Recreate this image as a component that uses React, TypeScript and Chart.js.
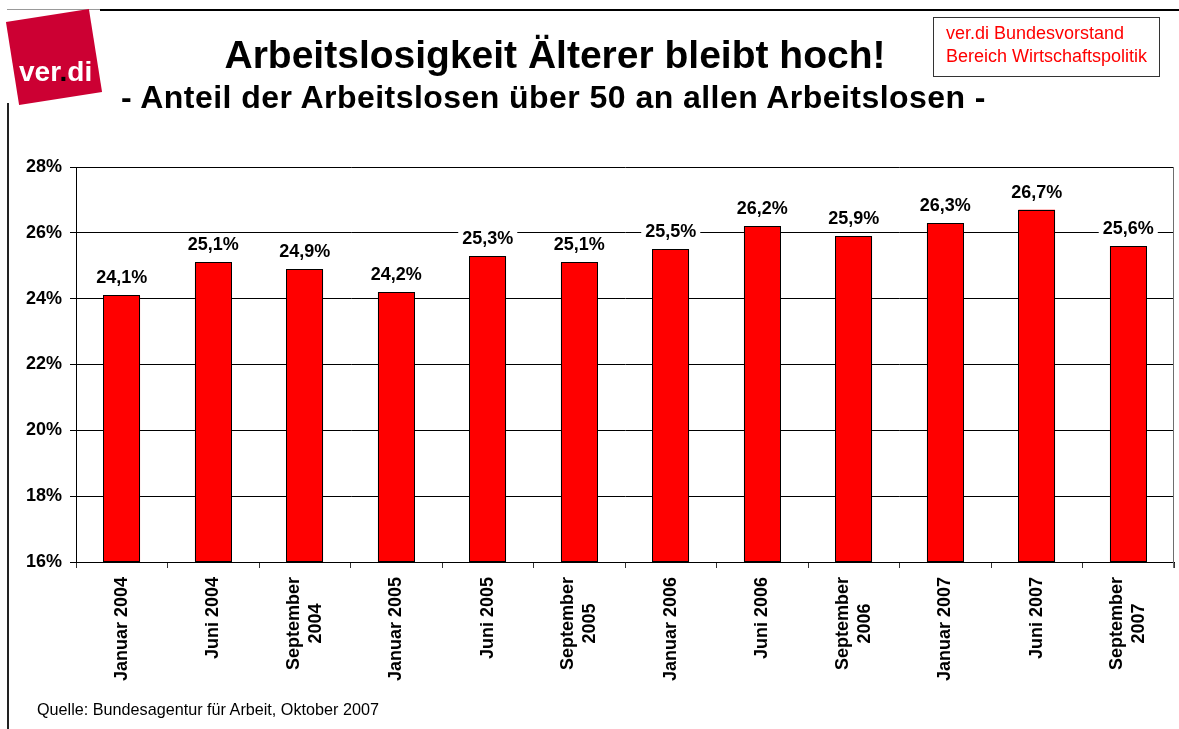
import React, { useEffect, useRef } from 'react';
import { Chart, registerables } from 'chart.js';

Chart.register(...registerables);

const categories: (string | string[])[] = [
  'Januar 2004',
  'Juni 2004',
  ['September', '2004'],
  'Januar 2005',
  'Juni 2005',
  ['September', '2005'],
  'Januar 2006',
  'Juni 2006',
  ['September', '2006'],
  'Januar 2007',
  'Juni 2007',
  ['September', '2007'],
];

const shares = [24.1, 25.1, 24.9, 24.2, 25.3, 25.1, 25.5, 26.2, 25.9, 26.3, 26.7, 25.6];

const yTicks = [16, 18, 20, 22, 24, 26, 28];

const FONT = '"Liberation Sans", Arial, Helvetica, sans-serif';

const barOutline = {
  id: 'barOutline',
  afterDatasetsDraw(chart: any) {
    const ctx = chart.ctx;
    const meta = chart.getDatasetMeta(0);
    const bottom = chart.scales.y.getPixelForValue(yTicks[0]);
    ctx.save();
    ctx.strokeStyle = '#000000';
    ctx.lineWidth = 1;
    meta.data.forEach((bar: any) => {
      const l = Math.round(bar.x - bar.width / 2) + 0.5;
      const r = Math.round(bar.x + bar.width / 2) - 0.5;
      const t = Math.round(bar.y) + 0.5;
      const b = Math.round(bottom) - 0.5;
      ctx.strokeRect(l, t, r - l, b - t);
    });
    ctx.restore();
  },
};

const valueLabels = {
  id: 'valueLabels',
  afterDatasetsDraw(chart: any) {
    const ctx = chart.ctx;
    const meta = chart.getDatasetMeta(0);
    ctx.save();
    ctx.font = `bold 18px ${FONT}`;
    ctx.textAlign = 'center';
    ctx.textBaseline = 'middle';
    meta.data.forEach((bar: any, i: number) => {
      const txt = shares[i].toFixed(1).replace('.', ',') + '%';
      const w = ctx.measureText(txt).width;
      const cy = bar.y - 18;
      ctx.fillStyle = '#ffffff';
      ctx.fillRect(bar.x - w / 2 - 4, cy - 11, w + 8, 22);
      ctx.fillStyle = '#000000';
      ctx.fillText(txt, bar.x, cy + 1);
    });
    ctx.restore();
  },
};

const xLabels = {
  id: 'xLabels',
  afterDraw(chart: any) {
    const ctx = chart.ctx;
    const xs = chart.scales.x;
    const top = chart.chartArea.bottom + 15;
    ctx.save();
    ctx.font = `bold 18px ${FONT}`;
    ctx.fillStyle = '#000000';
    ctx.textAlign = 'center';
    ctx.textBaseline = 'middle';
    categories.forEach((c, i) => {
      const lines = Array.isArray(c) ? c : [c];
      const maxW = Math.max(...lines.map((l) => ctx.measureText(l).width));
      const x = xs.getPixelForValue(i);
      ctx.save();
      ctx.translate(x, top);
      ctx.rotate(-Math.PI / 2);
      lines.forEach((l, j) => {
        ctx.fillText(l, -maxW / 2, (j - (lines.length - 1) / 2) * 22);
      });
      ctx.restore();
    });
    ctx.restore();
  },
};

const frame = {
  id: 'frame',
  afterDraw(chart: any) {
    const { ctx, chartArea } = chart;
    ctx.save();
    ctx.strokeStyle = '#6e6e6e';
    ctx.lineWidth = 1;
    ctx.beginPath();
    const x = Math.round(chartArea.right) - 0.5;
    ctx.moveTo(x, chartArea.top);
    ctx.lineTo(x, chartArea.bottom + 6);
    ctx.stroke();
    ctx.restore();
  },
};

function BarChart() {
  const ref = useRef<HTMLCanvasElement | null>(null);
  useEffect(() => {
    if (!ref.current) return;
    const chart = new Chart(ref.current, {
      type: 'bar',
      data: {
        labels: categories as any,
        datasets: [
          {
            data: shares,
            backgroundColor: '#ff0000',
            borderWidth: 0,
            barPercentage: 0.4,
            categoryPercentage: 1,
          },
        ],
      },
      options: {
        responsive: false,
        animation: false,
        devicePixelRatio: 1,
        layout: { padding: { top: 167, right: 5, left: 0, bottom: 0 } },
        plugins: {
          legend: { display: false },
          tooltip: { enabled: false },
          title: { display: false },
        },
        scales: {
          x: {
            grid: {
              display: true,
              drawOnChartArea: false,
              drawTicks: true,
              tickLength: 6,
              color: '#333333',
              offset: true,
            },
            border: { display: true, color: '#000000', width: 1 },
            ticks: { display: false },
            afterFit(scale: any) {
              scale.height = 167;
            },
          },
          y: {
            min: yTicks[0],
            max: yTicks[yTicks.length - 1],
            ticks: {
              stepSize: yTicks[1] - yTicks[0],
              callback: (v: any) => `${v}%`,
              color: '#000000',
              font: { family: FONT, size: 18, weight: 'bold' },
              padding: 8,
            },
            grid: { color: '#000000', lineWidth: 1, tickLength: 6, drawTicks: true },
            border: { display: true, color: '#000000', width: 1 },
            afterFit(scale: any) {
              scale.width = 76;
            },
          },
        },
      },
      plugins: [barOutline, valueLabels, xLabels, frame],
    });
    return () => chart.destroy();
  }, []);
  return (
    <canvas
      ref={ref}
      width={1179}
      height={729}
      style={{ position: 'absolute', left: 0, top: 0, width: 1179, height: 729 }}
    />
  );
}

export default function App() {
  return (
    <div
      style={{
        position: 'absolute',
        left: 0,
        top: 0,
        width: 1179,
        height: 729,
        background: '#ffffff',
        overflow: 'hidden',
        fontFamily: FONT,
      }}
    >
      <BarChart />
      {/* top rule */}
      <div style={{ position: 'absolute', left: 7, top: 9, width: 93, height: 1, background: '#999' }} />
      <div style={{ position: 'absolute', left: 100, top: 9, width: 1079, height: 2, background: '#000' }} />
      {/* left rule */}
      <div style={{ position: 'absolute', left: 7, top: 103, width: 2, height: 626, background: '#222' }} />
      {/* logo */}
      <div
        style={{
          position: 'absolute',
          left: 11.5,
          top: 15,
          width: 84,
          height: 84,
          background: '#cc0033',
          transform: 'rotate(-9deg)',
        }}
      />
      <div
        style={{
          position: 'absolute',
          left: 19,
          top: 82 - 0.8465 * 28,
          fontSize: 28,
          lineHeight: '28px',
          fontWeight: 'bold',
          color: '#ffffff',
          whiteSpace: 'nowrap',
        }}
      >
        ver<span style={{ color: '#000' }}>.</span>di
      </div>
      {/* titles */}
      <div
        style={{
          position: 'absolute',
          left: 0,
          width: 1110,
          top: 68 - 0.8465 * 39,
          textAlign: 'center',
          fontSize: 39,
          lineHeight: '39px',
          fontWeight: 'bold',
          color: '#000',
          whiteSpace: 'nowrap',
        }}
      >
        Arbeitslosigkeit Älterer bleibt hoch!
      </div>
      <div
        style={{
          position: 'absolute',
          left: 0,
          width: 1107,
          top: 108 - 0.8465 * 32,
          textAlign: 'center',
          fontSize: 32,
          lineHeight: '32px',
          letterSpacing: '0.45px',
          fontWeight: 'bold',
          color: '#000',
          whiteSpace: 'nowrap',
        }}
      >
        - Anteil der Arbeitslosen über 50 an allen Arbeitslosen -
      </div>
      {/* box */}
      <div
        style={{
          position: 'absolute',
          left: 933,
          top: 17,
          width: 225,
          height: 58,
          border: '1px solid #333',
          boxSizing: 'content-box',
        }}
      >
        <div
          style={{
            position: 'absolute',
            left: 12,
            top: 4,
            fontSize: 18,
            lineHeight: '23px',
            color: '#ff0000',
            whiteSpace: 'nowrap',
          }}
        >
          ver.di Bundesvorstand
          <br />
          Bereich Wirtschaftspolitik
        </div>
      </div>
      {/* source */}
      <div
        style={{
          position: 'absolute',
          left: 37,
          top: 715 - 0.8465 * 16.2,
          fontSize: 16.2,
          lineHeight: '16.2px',
          color: '#000',
          whiteSpace: 'nowrap',
        }}
      >
        Quelle: Bundesagentur für Arbeit, Oktober 2007
      </div>
    </div>
  );
}
